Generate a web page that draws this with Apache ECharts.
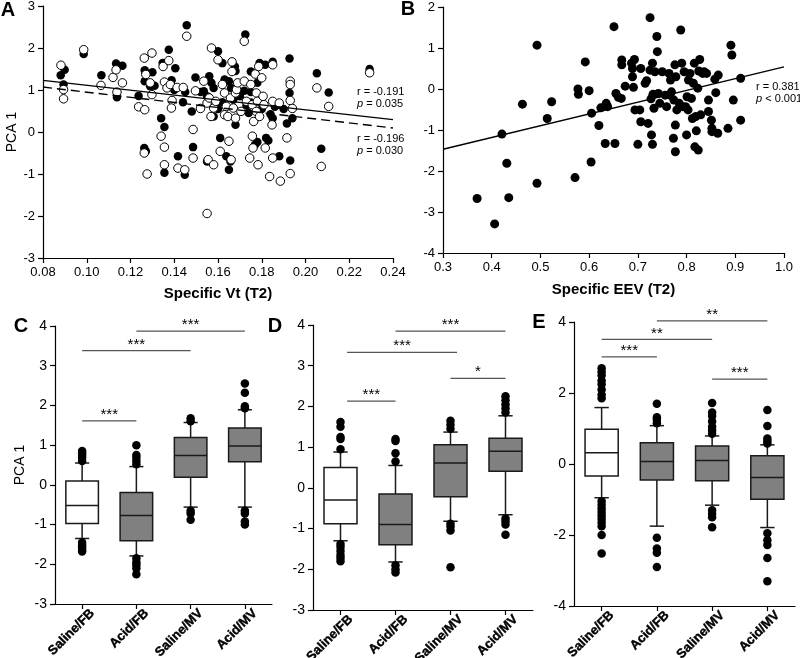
<!DOCTYPE html>
<html><head><meta charset="utf-8">
<script src="https://cdn.jsdelivr.net/npm/echarts@6/dist/echarts.min.js"></script>
<style>html,body{margin:0;padding:0;background:#fff}#c{width:800px;height:658px}</style>
</head><body><div id="c"></div>
<script>
// ---------- DATA ----------
const aXTicks = [0.08,0.10,0.12,0.14,0.16,0.18,0.20,0.22,0.24];
const aFilled = [[0.0881,1.35],[0.0899,1.48],[0.0894,1.13],[0.0986,1.86],[0.1067,1.35],[0.1134,1.63],[0.1138,0.83],[0.1163,1.58],
[0.1237,0.86],[0.1265,1.47],[0.1265,1.21],[0.127,1.4],[0.130,1.42],[0.129,1.09],[0.1263,-0.38],[0.127,-0.46],[0.134,0.33],[0.1355,0.12],
[0.1355,-0.97],[0.1347,1.64],[0.1375,1.96],[0.1388,1.23],[0.1405,1.52],[0.144,0.71],[0.1417,-0.58],[0.1448,-1.02],[0.1457,2.54],
[0.1486,-0.36],[0.148,0.49],[0.1497,1.3],[0.1535,0.97],[0.155,-0.7],[0.156,1.33],[0.157,1.17],[0.158,0.37],[0.160,1.92],[0.161,-0.14],
[0.162,0.71],[0.162,1.64],[0.1638,-0.58],[0.165,-0.9],[0.1657,-0.7],[0.167,0.77],[0.1677,1.56],[0.168,0.17],[0.165,1.21],[0.169,0.97],
[0.1725,2.32],[0.172,0.98],[0.173,0.63],[0.175,1.44],[0.174,0.45],[0.178,1.17],[0.178,-0.24],[0.177,-0.3],[0.179,1.64],[0.1816,1.6],
[0.182,-0.14],[0.183,-0.2],[0.185,1.67],[0.185,0.33],[0.1878,0.65],[0.188,-0.58],[0.1927,1.75],[0.1927,0.93],[0.193,-0.68],[0.1915,0.2],
[0.194,0.33],[0.2052,1.4],[0.2072,-0.4],[0.2106,0.94],[0.2293,1.5],
[0.166,1.05],[0.170,0.85],[0.175,0.7],[0.180,0.55],[0.186,0.6],[0.160,0.55],[0.155,0.85],[0.152,0.95],[0.163,1.25],[0.168,1.45],
[0.184,0.42],[0.190,0.55],[0.175,0.95],[0.145,0.95],[0.140,1.0],[0.158,1.05],[0.131,1.1]];
const aOpen = [[0.0882,1.59],[0.0894,1.01],[0.0894,0.79],[0.0986,1.96],[0.1065,1.11],[0.112,1.3],[0.1134,1.48],[0.1138,0.95],[0.1163,1.17],
[0.1237,0.6],[0.1265,0.53],[0.1263,1.76],[0.127,1.37],[0.129,1.17],[0.1298,1.88],[0.1298,0.89],[0.1263,-0.5],[0.1276,-1.0],[0.134,-0.1],
[0.1355,-0.36],[0.1355,-0.78],[0.1349,1.56],[0.1355,1.19],[0.1367,1.05],[0.1375,1.7],[0.1382,1.13],[0.139,0.75],[0.1387,0.57],[0.1413,1.06],
[0.1441,1.06],[0.1417,-0.86],[0.1448,-0.9],[0.1457,2.28],[0.1486,0.06],[0.1486,-0.62],[0.1497,0.98],[0.152,0.56],[0.1535,1.21],[0.155,0.69],
[0.155,-1.94],[0.1555,-0.66],[0.156,0.81],[0.1568,0.37],[0.157,2.0],[0.158,0.57],[0.158,-0.78],[0.159,0.73],[0.160,1.72],[0.161,-0.46],
[0.162,1.13],[0.163,0.41],[0.163,0.93],[0.1638,0.61],[0.1645,0.37],[0.165,-0.22],[0.166,-0.66],[0.1664,1.44],[0.1657,0.81],[0.1664,1.67],
[0.167,0.57],[0.168,0.93],[0.168,0.33],[0.1685,1.01],[0.169,1.17],[0.1705,0.49],[0.172,2.16],[0.172,1.21],[0.173,0.73],[0.1745,-0.62],
[0.175,1.13],[0.1757,-0.1],[0.1757,0.65],[0.176,-0.38],[0.1763,0.25],[0.1775,0.49],[0.1775,0.93],[0.177,1.38],[0.178,0.73],[0.1783,-0.78],
[0.1786,1.56],[0.179,0.37],[0.180,1.29],[0.1806,0.85],[0.181,0.65],[0.1816,-0.38],[0.1836,-1.06],[0.1847,0.17],[0.185,0.73],[0.185,1.6],
[0.185,-0.62],[0.188,0.69],[0.1885,-1.17],[0.1915,-0.14],[0.193,1.21],[0.193,1.13],[0.193,0.75],[0.193,-0.99],[0.194,0.56],[0.2052,1.05],
[0.2072,-0.82],[0.2106,0.61],[0.2293,1.41]];
const aFitSolid = [[0.08,1.23],[0.24,0.295]];
const aFitDashed = [[0.08,1.07],[0.24,0.095]];

const bPoints = [[0.37,-2.67],[0.406,-3.29],[0.421,-1.1],[0.431,-1.81],[0.435,-2.65],[0.463,-0.37],[0.493,1.07],[0.493,-2.3],[0.514,-0.72],
[0.523,-0.31],[0.571,-2.16],[0.577,0.0],[0.578,-0.13],[0.592,0.66],[0.6,-0.04],[0.605,-0.59],[0.604,-1.78],[0.62,-0.89],[0.624,-0.46],
[0.633,-1.33],[0.635,-0.35],[0.638,-0.43],[0.651,1.52],[0.653,-1.33],[0.655,-0.11],[0.66,-0.2],[0.667,0.71],[0.667,0.59],[0.666,-0.23],
[0.674,0.07],[0.687,0.63],[0.689,0.5],[0.693,0.72],[0.691,0.04],[0.689,0.3],[0.694,-0.51],[0.7,-1.35],[0.704,-0.51],[0.706,0.5],[0.706,-0.8],
[0.715,0.14],[0.718,0.2],[0.721,-0.84],[0.725,1.74],[0.725,0.46],[0.727,-0.24],[0.728,-1.12],[0.73,0.63],[0.73,-1.35],[0.731,-0.13],
[0.733,-0.47],[0.735,0.42],[0.739,1.28],[0.74,0.91],[0.742,-0.11],[0.745,-0.35],[0.75,0.42],[0.756,-0.15],[0.759,-0.43],[0.764,0.38],
[0.766,-0.15],[0.767,0.22],[0.769,-0.07],[0.773,-1.2],[0.774,-0.27],[0.776,0.59],[0.777,-0.88],[0.777,-1.53],[0.778,0.3],[0.78,-0.51],
[0.785,-0.35],[0.788,1.44],[0.79,0.63],[0.792,-0.43],[0.795,0.42],[0.798,-0.43],[0.8,-1.12],[0.801,-0.19],[0.803,-0.51],[0.804,0.22],
[0.807,0.38],[0.81,-0.23],[0.812,-0.72],[0.814,0.14],[0.816,0.63],[0.817,-1.41],[0.819,-0.67],[0.82,-1.02],[0.823,0.02],[0.824,-1.49],
[0.825,0.44],[0.827,0.72],[0.829,-0.63],[0.833,0.38],[0.836,0.42],[0.841,0.38],[0.845,-0.27],[0.845,-0.55],[0.851,-0.76],[0.852,-0.96],
[0.852,-1.04],[0.858,0.24],[0.86,-0.09],[0.864,-1.08],[0.865,0.34],[0.885,-0.96],[0.891,1.07],[0.893,0.83],[0.896,-0.27],[0.911,0.26],[0.911,-0.76]];
const bFit = [[0.3,-1.47],[1.0,0.54]];

const groups = ['Saline/FB','Acid/FB','Saline/MV','Acid/MV'];
// [lower whisker, Q1, median, Q3, upper whisker]
const boxC = [[-1.35,-0.97,-0.52,0.1,0.55],[-1.79,-1.41,-0.77,-0.19,0.46],[-0.56,0.19,0.74,1.19,1.57],[-0.56,0.58,0.98,1.43,1.89]];
const outC = [[0,0.85],[0,0.8],[0,0.75],[0,0.68],[0,0.6],[0,-1.45],[0,-1.52],[0,-1.58],[0,-1.64],[0,-1.68],
[1,1.0],[1,0.75],[1,0.68],[1,0.6],[1,0.52],[1,-1.85],[1,-1.95],[1,-2.02],[1,-2.1],[1,-2.25],
[2,1.68],[2,1.6],[2,-0.65],[2,-0.72],[2,-0.88],
[3,2.55],[3,2.32],[3,1.98],[3,1.93],[3,-0.65],[3,-0.72],[3,-0.92],[3,-1.0]];
const boxD = [[-1.3,-0.88,-0.3,0.5,0.88],[-1.82,-1.4,-0.9,-0.15,0.55],[-0.82,-0.22,0.61,1.06,1.37],[-0.66,0.41,0.9,1.22,1.77]];
const outD = [[0,1.62],[0,1.5],[0,1.25],[0,1.2],[0,0.95],[0,-1.38],[0,-1.45],[0,-1.55],[0,-1.65],[0,-1.72],[0,-1.8],
[1,1.2],[1,1.15],[1,0.85],[1,0.65],[1,-1.9],[1,-2.0],[1,-2.08],
[2,1.65],[2,1.55],[2,1.45],[2,-0.88],[2,-0.95],[2,-1.05],[2,-1.95],
[3,2.25],[3,2.15],[3,2.05],[3,1.95],[3,1.85],[3,-0.75],[3,-0.82],[3,-0.9],[3,-1.15]];
const boxE = [[-0.95,-0.34,0.32,0.98,1.59],[-1.75,-0.45,0.07,0.6,1.08],[-1.16,-0.47,0.1,0.51,0.79],[-1.79,-0.99,-0.38,0.23,0.54]];
const outE = [[0,2.7],[0,2.6],[0,2.5],[0,2.35],[0,2.25],[0,2.1],[0,1.95],[0,1.85],[0,-1.05],[0,-1.15],[0,-1.25],[0,-1.35],[0,-1.45],
[0,-1.55],[0,-1.65],[0,-1.75],[0,-2.0],[0,-2.52],
[1,1.7],[1,1.32],[1,1.25],[1,1.15],[1,-2.08],[1,-2.38],[1,-2.5],[1,-2.9],
[2,1.72],[2,1.45],[2,1.35],[2,1.2],[2,1.05],[2,0.95],[2,0.85],[2,-1.3],[2,-1.4],[2,-1.5],[2,-1.78],
[3,1.52],[3,1.07],[3,0.72],[3,0.65],[3,0.58],[3,-1.95],[3,-2.15],[3,-2.28],[3,-2.65],[3,-3.3]];
// significance bars: [from group, to group, y value, label]
const sigC = [[1,3,3.87,'***'],[0,2,3.38,'***'],[0,1,1.61,'***']];
const sigD = [[1,3,3.85,'***'],[0.12,2.12,3.33,'***'],[2,3,2.69,'*'],[0.12,1,2.13,'***']];
const sigE = [[1,3,4.03,'**'],[0,2,3.51,'**'],[0,1,3.02,'***'],[2,3,2.39,'***']];

// ---------- CHART ----------
const FF = '"Liberation Sans", Arial, sans-serif';
const grids = [
  {left:43, top:6, width:350, height:252},
  {left:443, top:7, width:341, height:246},
  {left:55, top:326, width:217, height:278},
  {left:313, top:325, width:220, height:285},
  {left:574, top:322, width:221, height:284}
].map(g=>Object.assign(g,{containLabel:false,outerBoundsMode:'none'}));
const yRanges = [[-3,3,1],[-4,2,1],[-3,4,1],[-3,4,1],[-4,4,2]];

function axBase(){
  return {
    axisLine:{show:true,onZero:false,lineStyle:{color:'#000',width:1.2}},
    axisTick:{show:true,length:5,lineStyle:{color:'#000',width:1.2}},
    splitLine:{show:false}
  };
}
const xAxes = [
  Object.assign(axBase(),{type:'value',gridIndex:0,min:0.08,max:0.24,interval:0.02,
    axisLabel:{color:'#000',fontSize:13,fontFamily:FF,margin:8,formatter:v=>v.toFixed(2)},
    name:'Specific Vt (T2)',nameLocation:'middle',nameGap:28,
    nameTextStyle:{color:'#000',fontSize:15,fontWeight:'bold',fontFamily:FF}}),
  Object.assign(axBase(),{type:'value',gridIndex:1,min:0.3,max:1.0,interval:0.1,
    axisLabel:{color:'#000',fontSize:13,fontFamily:FF,margin:8,formatter:v=>v.toFixed(1)},
    name:'Specific EEV (T2)',nameLocation:'middle',nameGap:29,
    nameTextStyle:{color:'#000',fontSize:15,fontWeight:'bold',fontFamily:FF}})
];
for (let g=2; g<5; g++){
  xAxes.push(Object.assign(axBase(),{type:'category',gridIndex:g,data:groups,boundaryGap:true,
    axisTick:{show:true,alignWithLabel:true,length:5,lineStyle:{color:'#000',width:1.2}},
    axisLabel:{color:'#000',fontSize:13,fontWeight:'bold',fontFamily:FF,rotate:45,interval:0,margin:-3,
      verticalAlign:'top',lineHeight:29,textBorderColor:'#000',textBorderWidth:0.4}}));
}
const yAxes = yRanges.map((r,g)=>Object.assign(axBase(),{type:'value',gridIndex:g,min:r[0],max:r[1],interval:r[2],
  axisLabel:{color:'#000',fontSize:g<2?13:14,fontFamily:FF,margin:8}}));
yAxes[0].name='PCA 1'; yAxes[0].nameLocation='middle'; yAxes[0].nameGap=22;
yAxes[0].nameTextStyle={color:'#000',fontSize:14,fontFamily:FF};
yAxes[2].name='PCA 1'; yAxes[2].nameLocation='middle'; yAxes[2].nameGap=28;
yAxes[2].nameTextStyle={color:'#000',fontSize:14,fontFamily:FF};

function renderBox(params, api){
  const i = api.value(0);
  const pMin = api.coord([i, api.value(1)]);
  const pQ1 = api.coord([i, api.value(2)]);
  const pMed = api.coord([i, api.value(3)]);
  const pQ3 = api.coord([i, api.value(4)]);
  const pMax = api.coord([i, api.value(5)]);
  const band = api.size([1,0])[0];
  const bw = band*0.6, cw = band*0.26, cx = pMed[0];
  const stroke = '#1a1a1a', lw = 1.5;
  const fill = params.dataIndex===0 ? '#ffffff' : '#808080';
  const ln = (x1,y1,x2,y2)=>({type:'line',shape:{x1,y1,x2,y2},style:{stroke,lineWidth:lw}});
  return {type:'group',children:[
    ln(cx,pMax[1],cx,pQ3[1]), ln(cx,pQ1[1],cx,pMin[1]),
    ln(cx-cw/2,pMax[1],cx+cw/2,pMax[1]), ln(cx-cw/2,pMin[1],cx+cw/2,pMin[1]),
    {type:'rect',shape:{x:cx-bw/2,y:pQ3[1],width:bw,height:pQ1[1]-pQ3[1]},style:{fill,stroke,lineWidth:lw}},
    ln(cx-bw/2,pMed[1],cx+bw/2,pMed[1])
  ]};
}

const dot = {color:'#000',opacity:1};
const series = [
  {type:'scatter',xAxisIndex:0,yAxisIndex:0,data:aFilled,symbol:'circle',symbolSize:8.5,
    itemStyle:{color:'#000',opacity:1},z:2},
  {type:'scatter',xAxisIndex:0,yAxisIndex:0,data:aOpen,symbol:'circle',symbolSize:8.5,
    itemStyle:{color:'#fff',borderColor:'#000',borderWidth:1,opacity:1},z:3},
  {type:'line',xAxisIndex:0,yAxisIndex:0,data:aFitSolid,showSymbol:false,lineStyle:{color:'#000',width:1.4},z:5},
  {type:'line',xAxisIndex:0,yAxisIndex:0,data:aFitDashed,showSymbol:false,lineStyle:{color:'#000',width:1.4,type:[9,5]},z:5},
  {type:'scatter',xAxisIndex:1,yAxisIndex:1,data:bPoints,symbol:'circle',symbolSize:9,itemStyle:dot,z:2},
  {type:'line',xAxisIndex:1,yAxisIndex:1,data:bFit,showSymbol:false,lineStyle:{color:'#000',width:1.4},z:5}
];
[[boxC,outC],[boxD,outD],[boxE,outE]].forEach(([bx,out],k)=>{
  const g = k+2;
  series.push({type:'custom',xAxisIndex:g,yAxisIndex:g,renderItem:renderBox,
    data:bx.map((b,i)=>[i].concat(b)),encode:{x:0,y:[1,2,3,4,5]},z:2});
  series.push({type:'scatter',xAxisIndex:g,yAxisIndex:g,data:out,symbol:'circle',symbolSize:8.5,itemStyle:dot,z:3});
});

// annotations
const graphic = [];
function txt(x,y,text,opt){
  graphic.push({type:'text',x,y,style:Object.assign({text,fill:'#000',font:'12px '+FF,textAlign:'left',textVerticalAlign:'middle'},opt||{})});
}
const letterFont = 'bold 20px '+FF;
txt(8,10,'A',{font:letterFont,textAlign:'center'});
txt(408,9,'B',{font:letterFont,textAlign:'center'});
txt(21,326,'C',{font:letterFont,textAlign:'center'});
txt(275,326,'D',{font:letterFont,textAlign:'center'});
txt(539,322,'E',{font:letterFont,textAlign:'center'});
function rp(x,y,r,pv){
  graphic.push({type:'text',x,y,style:{text:'r = '+r,fill:'#000',font:'11px '+FF,textVerticalAlign:'middle'}});
  graphic.push({type:'text',x,y:y+12,style:{text:'{i|p} '+pv,fill:'#000',font:'11px '+FF,textVerticalAlign:'middle',
    rich:{i:{fontStyle:'italic',fontSize:11,fontFamily:FF}}}});
}
rp(357,92,'-0.191','= 0.035');
rp(357,139,'-0.196','= 0.030');
rp(756,87,'0.381','< 0.001');

function sigBars(sig,g){
  const gr = grids[g], yr = yRanges[g];
  const band = gr.width/4;
  sig.forEach(([a,b,v,lab])=>{
    const x1 = gr.left+(a+0.5)*band, x2 = gr.left+(b+0.5)*band;
    const y = gr.top+(yr[1]-v)/(yr[1]-yr[0])*gr.height;
    graphic.push({type:'line',shape:{x1,y1:y,x2,y2:y},style:{stroke:'#555',lineWidth:1.3}});
    graphic.push({type:'text',x:(x1+x2)/2,y:y-6,style:{text:lab,fill:'#000',font:'15px '+FF,textAlign:'center',textVerticalAlign:'middle'}});
  });
}
sigBars(sigC,2); sigBars(sigD,3); sigBars(sigE,4);

const chart = echarts.init(document.getElementById('c'),null,{renderer:'canvas'});
chart.setOption({animation:false,backgroundColor:'#fff',grid:grids,xAxis:xAxes,yAxis:yAxes,series,graphic});
</script></body></html>
